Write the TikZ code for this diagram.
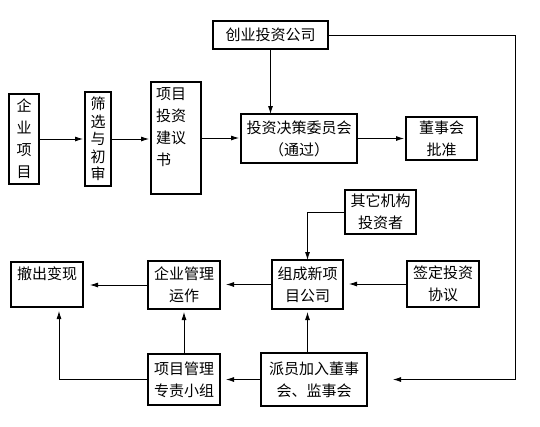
\documentclass[tikz,border=0pt]{standalone}
\usepackage{fontspec}
\setmainfont{Noto Sans CJK SC}
\usetikzlibrary{arrows.meta}

\begin{document}
\begin{tikzpicture}[x=1pt, y=-1pt,
		every node/.style={inner sep=2pt, outer sep=0, font=\fontsize{15pt}{22pt}\selectfont},
		box/.style={draw, line width=1.6pt, align=center},
		arr/.style={line width=0.8pt, -{Latex[length=8pt,width=5pt]}}]
		\useasboundingbox (0,0) rectangle (540,426);

		% first row
		\node[box, minimum width=115pt, minimum height=28pt] (vc) at (270.5,35) {创业投资公司};
		\node[box, minimum width=30pt, minimum height=90pt] (qy) at (24,139) {企\\业\\项\\目};
		\node[box, minimum width=26pt, minimum height=94pt, font=\fontsize{15pt}{17.5pt}\selectfont] (sx) at (98,139) {筛\\选\\与\\初\\审};
		\node[box, align=left, text width=40pt, inner xsep=5pt, inner ysep=4pt, text height=13pt, text depth=91pt] (jy) at (176,138) {项目\\投资\\建议\\书};
		\node[box, minimum width=116pt, minimum height=49pt] (jc) at (299,138.5) {投资决策委员会\\（通过）};
		\node[box, minimum width=71pt, minimum height=43pt] (ds) at (441.5,138.5) {董事会\\批准};

		% second row
		\node[box, minimum width=71pt, minimum height=44pt] (qt) at (380.5,212) {其它机构\\投资者};
		\node[box, minimum width=71pt, minimum height=49pt] (zc) at (307.5,284.5) {组成新项\\目公司};
		\node[box, minimum width=72pt, minimum height=46pt] (qd) at (443,284) {签定投资\\协议};
		\node[box, minimum width=72pt, minimum height=48pt] (gl) at (184,285) {企业管理\\运作};
		\node[box, minimum width=72pt, inner ysep=4pt, text height=13.5pt, text depth=23.5pt] (cc) at (47,284.5) {撤出变现};

		% third row
		\node[box, minimum width=72pt, minimum height=51pt] (xz) at (184,379.5) {项目管理\\专责小组};
		\node[box, minimum width=106pt, minimum height=53pt] (py) at (314,379.5) {派员加入董事\\会、监事会};

		\coordinate (rt) at (515,35);
		\coordinate (ret) at (393,379.5);

		\foreach \a/\b in {qy/sx, sx/jy, jy/jc, jc/ds}{
				\draw[arr, shorten >=2pt] (\a.east) -- (\a.east -| \b.west);
		}
		\draw[arr] (vc.south) -- (vc.south |- jc.north);
		\draw[arr] (vc.east) -- (rt) |- (ret);
		\draw[arr] (qt.west) -| (zc.north);
		\draw[arr, shorten >=6pt] (qd.west) -- (qd.west -| zc.east);
		\draw[arr, shorten >=6pt] (zc.west) -- (zc.west -| gl.east);
		\draw[arr, shorten >=7pt] (gl.west) -- (gl.west -| cc.east);
		\draw[arr, shorten >=3pt] (xz.north) -- (gl.south);
		\draw[arr, shorten >=3pt] (zc.south |- py.north) -- (zc.south);
		\draw[arr, shorten >=6pt] (py.west) -- (py.west -| xz.east);
		\draw[arr, shorten >=4pt] (xz.west) -| ([xshift=12pt]cc.south);

	\end{tikzpicture}
\end{document}
